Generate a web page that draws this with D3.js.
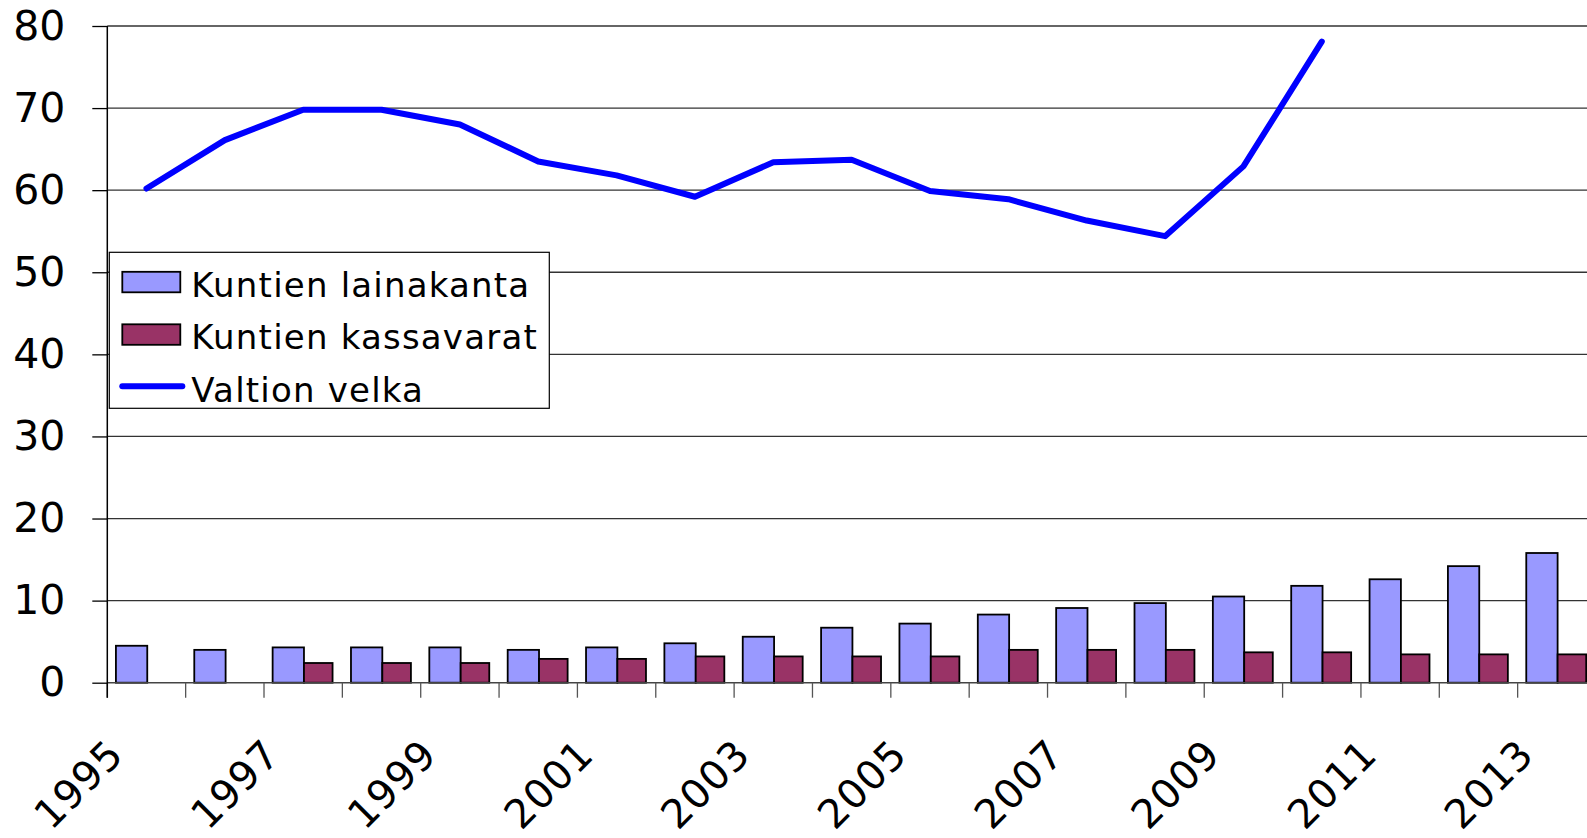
<!DOCTYPE html>
<html>
<head>
<meta charset="utf-8">
<script src="https://cdn.jsdelivr.net/npm/d3@7"></script>
<style>
  body { margin: 0; background: #fff; }
  svg { display: block; font-family: "DejaVu Sans", Verdana, sans-serif; }
</style>
</head>
<body>
<div id="chart"></div>
<script>
  // years on the x axis, every other one gets a label
  const years = ['1995','1996','1997','1998','1999','2000','2001','2002','2003','2004',
                 '2005','2006','2007','2008','2009','2010','2011','2012','2013']
  const yTicks = [0, 10, 20, 30, 40, 50, 60, 70, 80]

  const lainakanta = [4.5, 4.0, 4.3, 4.3, 4.3, 4.0, 4.3, 4.8, 5.6, 6.7, 7.2, 8.3, 9.1, 9.7, 10.5, 11.8, 12.6, 14.2, 15.8]
  const kassavarat = [null, null, 2.4, 2.4, 2.4, 2.9, 2.9, 3.2, 3.2, 3.2, 3.2, 4.0, 4.0, 4.0, 3.7, 3.7, 3.45, 3.45, 3.45]
  const valtionVelka = [60.2, 66.1, 69.8, 69.8, 68.0, 63.5, 61.8, 59.2, 63.4, 63.7, 59.9, 58.9, 56.3, 54.4, 62.9, 78.1, null, null, null]

  const seriesNames = ['Kuntien lainakanta', 'Kuntien kassavarat', 'Valtion velka']

  const W = 1587, H = 838
  // plot area runs off the right edge of the picture, like the original
  const margin = { top: 26, left: 107.3, right: -9, bottom: 155.3 }

  const svg = d3.select('#chart').append('svg')
    .attr('width', W)
    .attr('height', H)

  const x = d3.scaleBand()
    .domain(years)
    .range([margin.left, W - margin.right])
    .padding(0)

  const y = d3.scaleLinear()
    .domain([0, 80])
    .range([H - margin.bottom, margin.top])

  const bw = x.bandwidth()

  // gridlines
  svg.append('g')
    .selectAll('line')
    .data(yTicks.filter(d => d > 0))
    .join('line')
    .attr('x1', margin.left)
    .attr('x2', W)
    .attr('y1', d => y(d))
    .attr('y2', d => y(d))
    .attr('stroke', '#333')
    .attr('stroke-width', 1.3)

  // bars
  const bars = svg.append('g')
  bars.selectAll('rect.laina')
    .data(years.map((yr, i) => ({ yr, v: lainakanta[i] })).filter(d => d.v != null))
    .join('rect')
    .attr('class', 'laina')
    .attr('x', d => x(d.yr) + bw * 0.11)
    .attr('width', bw * 0.40)
    .attr('y', d => y(d.v))
    .attr('height', d => y(0) - y(d.v))
    .attr('fill', '#9999FF')
    .attr('stroke', '#000')
    .attr('stroke-width', 1.8)

  bars.selectAll('rect.kassa')
    .data(years.map((yr, i) => ({ yr, v: kassavarat[i] })).filter(d => d.v != null))
    .join('rect')
    .attr('class', 'kassa')
    .attr('x', d => x(d.yr) + bw * 0.51)
    .attr('width', bw * 0.365)
    .attr('y', d => y(d.v))
    .attr('height', d => y(0) - y(d.v))
    .attr('fill', '#993366')
    .attr('stroke', '#000')
    .attr('stroke-width', 1.8)

  // x axis with ticks between the categories
  const xAxis = svg.append('g')
  xAxis.append('line')
    .attr('x1', margin.left).attr('x2', W)
    .attr('y1', y(0)).attr('y2', y(0))
    .attr('stroke', '#444').attr('stroke-width', 1.5)
  xAxis.selectAll('line.tick')
    .data(years)
    .join('line')
    .attr('class', 'tick')
    .attr('x1', d => x(d)).attr('x2', d => x(d))
    .attr('y1', y(0)).attr('y2', y(0) + 15)
    .attr('stroke', '#555').attr('stroke-width', 1.3)
  xAxis.selectAll('text')
    .data(years.filter((d, i) => i % 2 === 0))
    .join('text')
    .attr('transform', d => `translate(${x(d) + bw / 2 - 21}, 757) rotate(-45)`)
    .attr('text-anchor', 'end')
    .attr('font-size', 40)
    .attr('letter-spacing', 0.8)
    .attr('fill', '#000')
    .text(d => d)

  // y axis
  const yAxis = svg.append('g')
    .attr('transform', `translate(${margin.left},0)`)
    .call(d3.axisLeft(y).tickValues(yTicks).tickSize(15).tickPadding(27))
  yAxis.select('.domain').remove()
  yAxis.selectAll('.tick line').attr('stroke', '#000').attr('stroke-width', 1.3)
  yAxis.selectAll('.tick text')
    .attr('font-size', 41)
    .attr('font-family', '"DejaVu Sans", Verdana, sans-serif')
    .attr('fill', '#000')
  svg.append('line')
    .attr('x1', margin.left).attr('x2', margin.left)
    .attr('y1', y(80)).attr('y2', y(0) + 15)
    .attr('stroke', '#000').attr('stroke-width', 1.5)

  // line series
  const line = d3.line()
    .defined(d => d.v != null)
    .x(d => x(d.yr) + bw / 2)
    .y(d => y(d.v))
  svg.append('path')
    .datum(years.map((yr, i) => ({ yr, v: valtionVelka[i] })))
    .attr('d', line)
    .attr('fill', 'none')
    .attr('stroke', '#0000FF')
    .attr('stroke-width', 6)
    .attr('stroke-linejoin', 'round')
    .attr('stroke-linecap', 'round')

  // legend
  const legend = svg.append('g').attr('transform', 'translate(109.3,252.3)')
  legend.append('rect')
    .attr('width', 440).attr('height', 156)
    .attr('fill', '#fff').attr('stroke', '#000').attr('stroke-width', 1.2)
  const rows = legend.selectAll('g.row')
    .data(seriesNames)
    .join('g')
    .attr('class', 'row')
    .attr('transform', (d, i) => `translate(0, ${i * 52.5})`)
  rows.filter((d, i) => i < 2).append('rect')
    .attr('x', 13).attr('y', 19.5)
    .attr('width', 58).attr('height', 20.5)
    .attr('fill', (d, i) => i === 0 ? '#9999FF' : '#993366')
    .attr('stroke', '#000').attr('stroke-width', 1.8)
  rows.filter((d, i) => i === 2).append('line')
    .attr('x1', 13).attr('x2', 73)
    .attr('y1', 29).attr('y2', 29)
    .attr('stroke', '#0000FF').attr('stroke-width', 6)
    .attr('stroke-linecap', 'round')
  rows.append('text')
    .attr('x', 82).attr('y', 44.5)
    .attr('font-size', 34)
    .attr('letter-spacing', 1.2)
    .attr('fill', '#000')
    .text(d => d)
</script>
</body>
</html>
